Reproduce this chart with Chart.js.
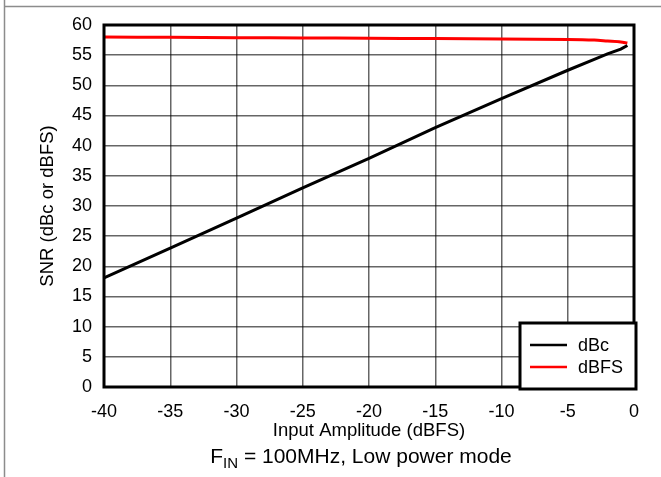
<!DOCTYPE html>
<html lang="en">
<head>
    <meta charset="UTF-8">
    <title>SNR vs Input Amplitude</title>
    <!-- Chart.js from CDN -->
    <script src="https://cdn.jsdelivr.net/npm/chart.js"></script>
    <style>
        html, body { margin: 0; padding: 0; background: #fff; }
        #wrap { width: 661px; height: 477px; }
    </style>
</head>
<body>
    <div id="wrap"><canvas id="snrChart" width="661" height="477"></canvas></div>

    <script>
        // Data
        const amplitude = [-40, -35, -30, -25, -20, -15, -10, -5, -3, -2, -1, -0.5];
        const snrDbc = [18.1, 23.0, 28.0, 33.0, 37.9, 43.0, 47.8, 52.5, 54.3, 55.2, 56.0, 56.6];
        const snrDbfs = [58.0, 57.95, 57.9, 57.85, 57.8, 57.75, 57.7, 57.6, 57.5, 57.35, 57.2, 57.0];
        const seriesNames = ['dBc', 'dBFS'];
        const seriesColors = ['#000000', '#ff0000'];

        // Tick labels
        const xTicks = [-40, -35, -30, -25, -20, -15, -10, -5, 0];
        const yTicks = [0, 5, 10, 15, 20, 25, 30, 35, 40, 45, 50, 55, 60];

        const xTitle = 'Input Amplitude (dBFS)';
        const yTitle = 'SNR (dBc or dBFS)';

        const FONT = "'Liberation Sans', Arial, Helvetica, sans-serif";

        // Page frame, plot border, legend box and caption
        const decorPlugin = {
            id: 'decor',
            beforeDraw(chart) {
                const ctx = chart.ctx;
                ctx.save();
                ctx.strokeStyle = '#8c8c8c';
                ctx.lineWidth = 1.5;
                ctx.beginPath();
                ctx.moveTo(4.5, 0);
                ctx.lineTo(4.5, 477);
                ctx.moveTo(4.5, 6.5);
                ctx.lineTo(661, 6.5);
                ctx.stroke();
                ctx.restore();
            },
            afterDatasetsDraw(chart) {
                const ctx = chart.ctx;
                const a = chart.chartArea;
                ctx.save();
                // plot border
                ctx.strokeStyle = '#000';
                ctx.lineWidth = 3;
                ctx.strokeRect(a.left, a.top, a.right - a.left, a.bottom - a.top);

                // legend box
                const lx = 520, ly = 323, lw = 116, lh = 66;
                ctx.fillStyle = '#fff';
                ctx.fillRect(lx, ly, lw, lh);
                ctx.strokeRect(lx, ly, lw, lh);
                ctx.font = '18px ' + FONT;
                ctx.textBaseline = 'middle';
                ctx.textAlign = 'left';
                chart.data.datasets.forEach((ds, i) => {
                    const y = 345 + i * 22;
                    ctx.strokeStyle = ds.borderColor;
                    ctx.lineWidth = 2.5;
                    ctx.beginPath();
                    ctx.moveTo(530, y);
                    ctx.lineTo(567, y);
                    ctx.stroke();
                    ctx.fillStyle = '#000';
                    ctx.fillText(ds.label, 578, y + 1);
                });

                // caption under the x axis title
                ctx.fillStyle = '#000';
                ctx.textBaseline = 'alphabetic';
                const main = '21px ' + FONT;
                const sub = '15px ' + FONT;
                const parts = [['F', main, 0], ['IN', sub, 5], [' = 100MHz, Low power mode', main, 0]];
                let total = 0;
                parts.forEach(p => { ctx.font = p[1]; total += ctx.measureText(p[0]).width; });
                let x = 361 - total / 2;
                parts.forEach(p => {
                    ctx.font = p[1];
                    ctx.fillText(p[0], x, 463 + p[2]);
                    x += ctx.measureText(p[0]).width;
                });
                ctx.restore();
            }
        };

        const ctx = document.getElementById('snrChart').getContext('2d');
        new Chart(ctx, {
            type: 'line',
            data: {
                datasets: [
                    {
                        label: seriesNames[0],
                        data: amplitude.map((v, i) => ({ x: v, y: snrDbc[i] })),
                        borderColor: seriesColors[0],
                        borderWidth: 3,
                        pointRadius: 0,
                        tension: 0
                    },
                    {
                        label: seriesNames[1],
                        data: amplitude.map((v, i) => ({ x: v, y: snrDbfs[i] })),
                        borderColor: seriesColors[1],
                        borderWidth: 3,
                        pointRadius: 0,
                        tension: 0.3
                    }
                ]
            },
            options: {
                responsive: false,
                animation: false,
                devicePixelRatio: 1,
                layout: { padding: { left: 0, top: 25, right: 27, bottom: 35 } },
                plugins: {
                    legend: { display: false },
                    tooltip: { enabled: false }
                },
                scales: {
                    x: {
                        type: 'linear',
                        min: -40,
                        max: 0,
                        afterBuildTicks: s => { s.ticks = xTicks.map(v => ({ value: v })); },
                        afterFit: s => { s.height = 55; },
                        grid: { color: 'rgba(0,0,0,0.6)', lineWidth: 1.5, drawTicks: false },
                        border: { display: false },
                        ticks: { color: '#000', font: { family: FONT, size: 18 }, padding: 14, maxRotation: 0 },
                        title: { display: true, text: xTitle, color: '#000', font: { family: FONT, size: 18.5 }, padding: { top: 0, bottom: 0 } }
                    },
                    y: {
                        min: 0,
                        max: 60,
                        afterBuildTicks: s => { s.ticks = yTicks.map(v => ({ value: v })); },
                        afterFit: s => { s.width = 104; },
                        grid: { color: 'rgba(0,0,0,0.6)', lineWidth: 1.5, drawTicks: false },
                        border: { display: false },
                        ticks: { color: '#000', font: { family: FONT, size: 18 }, padding: 12 },
                        title: { display: true, text: yTitle, color: '#000', font: { family: FONT, size: 18.5 }, padding: { top: 37, bottom: 0 } }
                    }
                }
            },
            plugins: [decorPlugin]
        });
    </script>
</body>
</html>
